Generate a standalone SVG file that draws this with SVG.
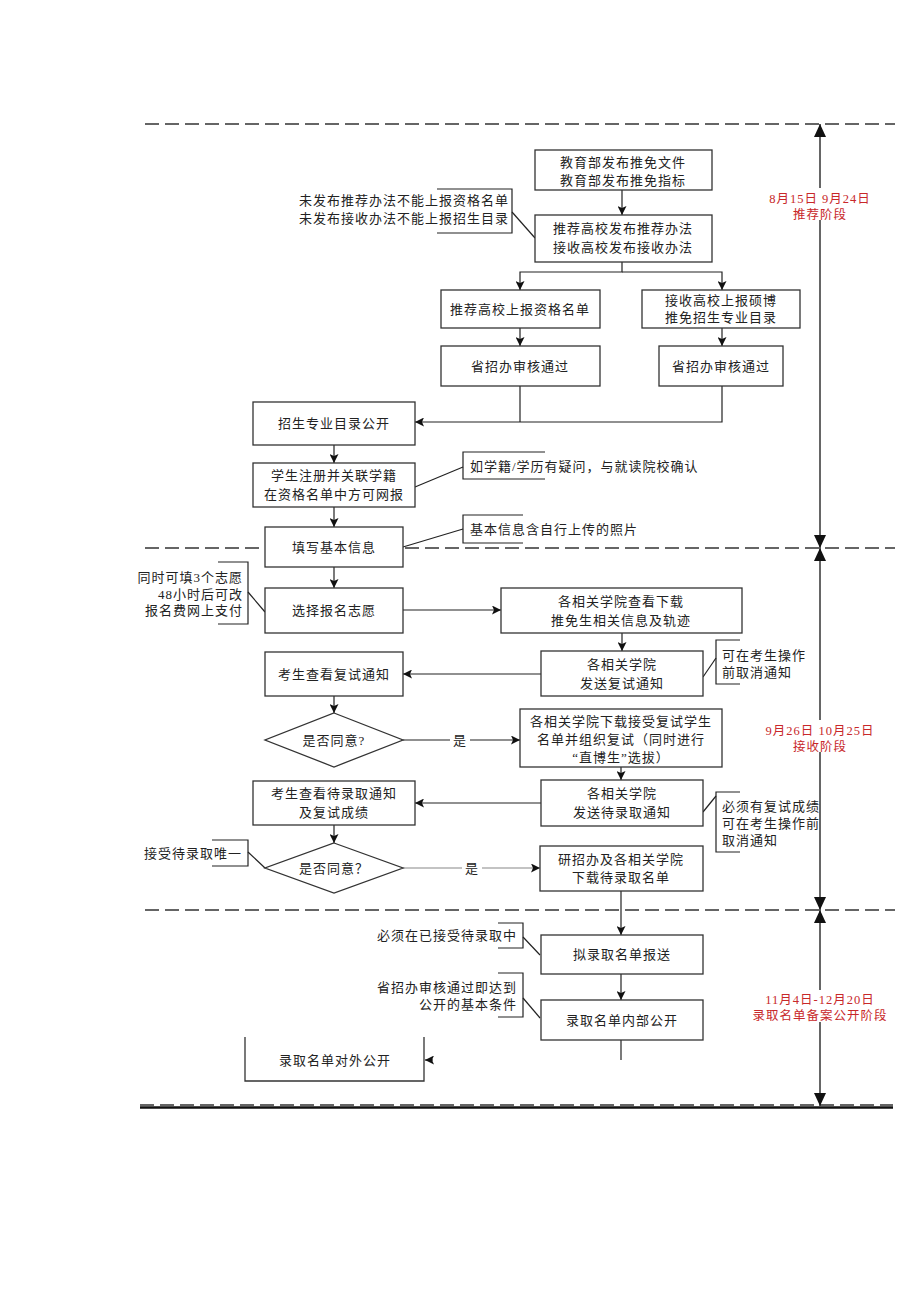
<svg xmlns="http://www.w3.org/2000/svg" width="920" height="1302" viewBox="0 0 920 1302">
<defs>
<style>
.box{fill:#fff;stroke:#333;stroke-width:1.3}
.t{font-family:"Liberation Serif","Noto Sans CJK SC",serif;font-size:13px;fill:#222;letter-spacing:1px}
.c{text-anchor:middle}
.r{text-anchor:end}
.red{font-family:"Liberation Serif","Noto Sans CJK SC",serif;font-size:12.5px;fill:#c8282a;text-anchor:middle;letter-spacing:1px}
.ln{fill:none;stroke:#222;stroke-width:1.2}
.grey{fill:none;stroke:#888;stroke-width:1.2}
.dash{fill:none;stroke:#333;stroke-width:1.5;stroke-dasharray:14 6}
.tl{fill:none;stroke:#333;stroke-width:1.5}
</style>
<marker id="a" markerWidth="9" markerHeight="9" refX="9" refY="4.5" orient="auto" markerUnits="userSpaceOnUse"><path d="M0,0 L9,4.5 L0,9 L2,4.5 z" fill="#111"/></marker>
<marker id="b" markerWidth="13" markerHeight="12" refX="13" refY="6" orient="auto-start-reverse" markerUnits="userSpaceOnUse"><path d="M0,0 L13,6 L0,12 z" fill="#111"/></marker>
</defs>

<g id="separators">
<line class="dash" x1="145" y1="124" x2="895" y2="124"/>
<line class="dash" x1="145" y1="548" x2="895" y2="548"/>
<line class="dash" x1="145" y1="910" x2="895" y2="910"/>
<line class="dash" x1="140" y1="1105" x2="893" y2="1105"/>
<line x1="140" y1="1107.5" x2="893" y2="1107.5" stroke="#111" stroke-width="2.5"/>
</g>

<g id="timeline">
<line class="tl" x1="820" y1="124" x2="820" y2="548" marker-start="url(#b)" marker-end="url(#b)"/>
<line class="tl" x1="820" y1="548" x2="820" y2="910" marker-start="url(#b)" marker-end="url(#b)"/>
<line class="tl" x1="820" y1="910" x2="820" y2="1106" marker-start="url(#b)" marker-end="url(#b)"/>
<rect x="764" y="188" width="112" height="32" fill="#fff"/>
<text class="red" x="820" y="203">8月15日  9月24日</text>
<text class="red" x="820" y="219">推荐阶段</text>
<rect x="756" y="720" width="128" height="32" fill="#fff"/>
<text class="red" x="820" y="735">9月26日  10月25日</text>
<text class="red" x="820" y="751">接收阶段</text>
<rect x="748" y="990" width="146" height="32" fill="#fff"/>
<text class="red" x="820" y="1004">11月4日-12月20日</text>
<text class="red" x="820" y="1020">录取名单备案公开阶段</text>
</g>

<g id="connectors">
<path class="ln" d="M622,190 V215" marker-end="url(#a)"/>
<path class="ln" d="M622,262 V272 H520 V290" marker-end="url(#a)"/>
<path class="ln" d="M622,272 H722 V290" marker-end="url(#a)"/>
<path class="ln" d="M520,328 V346" marker-end="url(#a)"/>
<path class="ln" d="M722,328 V346" marker-end="url(#a)"/>
<path class="ln" d="M520,386 V422"/>
<path class="ln" d="M722,386 V422 H415" marker-end="url(#a)"/>
<path class="ln" d="M334,445 V463" marker-end="url(#a)"/>
<path class="ln" d="M334,507 V527" marker-end="url(#a)"/>
<path class="ln" d="M334,567 V588" marker-end="url(#a)"/>
<path class="ln" d="M403,610 H501" marker-end="url(#a)"/>
<path class="ln" d="M622,633 V651" marker-end="url(#a)"/>
<path class="ln" d="M541,674 H403" marker-end="url(#a)"/>
<path class="ln" d="M334,696 V713" marker-end="url(#a)"/>
<path class="ln" d="M403,740 H520" marker-end="url(#a)"/>
<rect x="450" y="732" width="20" height="16" fill="#fff"/>
<text class="t c" x="460" y="745">是</text>
<path class="ln" d="M621,767 V780" marker-end="url(#a)"/>
<path class="ln" d="M541,803 H415" marker-end="url(#a)"/>
<path class="ln" d="M334,825 V843" marker-end="url(#a)"/>
<path class="grey" d="M403,868 H540" marker-end="url(#a)"/>
<rect x="462" y="860" width="20" height="16" fill="#fff"/>
<text class="t c" x="472" y="873">是</text>
<path class="ln" d="M621,891 V935" marker-end="url(#a)"/>
<path class="ln" d="M621,974 V1000" marker-end="url(#a)"/>
<path class="ln" d="M621,1040 V1060"/>
<path class="ln" d="M433,1060 H425" marker-end="url(#a)"/>
<path class="ln" d="M512,212 L535,238"/>
<path class="ln" d="M415,487 L463,467"/>
<path class="ln" d="M403,547 L463,529"/>
<path class="ln" d="M248,592 L265,612"/>
<path class="ln" d="M703,677 L716,658"/>
<path class="ln" d="M703,812 L716,796"/>
<path class="ln" d="M248,852 L265,868"/>
<path class="ln" d="M523,937 L540,955"/>
<path class="ln" d="M523,998 L540,1018"/>
</g>

<g id="n1"><rect class="box" x="535" y="150" width="177" height="40"/>
<text class="t c" x="623" y="167">教育部发布推免文件</text><text class="t c" x="623" y="185">教育部发布推免指标</text></g>
<g id="n2"><rect class="box" x="535" y="215" width="177" height="47"/>
<text class="t c" x="623" y="233">推荐高校发布推荐办法</text><text class="t c" x="623" y="252">接收高校发布接收办法</text></g>
<g id="n3"><rect class="box" x="441" y="290" width="159" height="38"/>
<text class="t c" x="520" y="314">推荐高校上报资格名单</text></g>
<g id="n4"><rect class="box" x="642" y="290" width="158" height="38"/>
<text class="t c" x="721" y="305">接收高校上报硕博</text><text class="t c" x="721" y="322">推免招生专业目录</text></g>
<g id="n5"><rect class="box" x="441" y="346" width="159" height="40"/>
<text class="t c" x="520" y="371">省招办审核通过</text></g>
<g id="n6"><rect class="box" x="659" y="346" width="124" height="40"/>
<text class="t c" x="721" y="371">省招办审核通过</text></g>
<g id="n7"><rect class="box" x="253" y="402" width="162" height="43"/>
<text class="t c" x="334" y="428">招生专业目录公开</text></g>
<g id="n8"><rect class="box" x="253" y="463" width="162" height="44"/>
<text class="t c" x="334" y="480">学生注册并关联学籍</text><text class="t c" x="334" y="499">在资格名单中方可网报</text></g>
<g id="n9"><rect class="box" x="265" y="527" width="138" height="40"/>
<text class="t c" x="334" y="552">填写基本信息</text></g>
<g id="n10"><rect class="box" x="265" y="588" width="138" height="45"/>
<text class="t c" x="334" y="615">选择报名志愿</text></g>
<g id="n11"><rect class="box" x="501" y="588" width="241" height="45"/>
<text class="t c" x="621" y="606">各相关学院查看下载</text><text class="t c" x="621" y="625">推免生相关信息及轨迹</text></g>
<g id="n12"><rect class="box" x="541" y="651" width="162" height="45"/>
<text class="t c" x="622" y="669">各相关学院</text><text class="t c" x="622" y="688">发送复试通知</text></g>
<g id="n13"><rect class="box" x="265" y="652" width="138" height="44"/>
<text class="t c" x="334" y="679">考生查看复试通知</text></g>
<g id="n14"><polygon class="box" points="334,713 403,740 334,767 265,740"/>
<text class="t c" x="334" y="745">是否同意?</text></g>
<g id="n15"><rect class="box" x="520" y="709" width="202" height="58"/>
<text class="t c" x="621" y="726">各相关学院下载接受复试学生</text><text class="t c" x="621" y="744">名单并组织复试（同时进行</text><text class="t c" x="621" y="762">“直博生”选拔）</text></g>
<g id="n16"><rect class="box" x="541" y="780" width="162" height="46"/>
<text class="t c" x="622" y="798">各相关学院</text><text class="t c" x="622" y="817">发送待录取通知</text></g>
<g id="n17"><rect class="box" x="253" y="781" width="162" height="44"/>
<text class="t c" x="334" y="798">考生查看待录取通知</text><text class="t c" x="334" y="817">及复试成绩</text></g>
<g id="n18"><polygon class="box" points="334,843 403,868 334,893 265,868"/>
<text class="t c" x="334" y="873">是否同意？</text></g>
<g id="n19"><rect class="box" x="540" y="846" width="163" height="45"/>
<text class="t c" x="621" y="864">研招办及各相关学院</text><text class="t c" x="621" y="882">下载待录取名单</text></g>
<g id="n20"><rect class="box" x="541" y="935" width="162" height="39"/>
<text class="t c" x="622" y="959">拟录取名单报送</text></g>
<g id="n21"><rect class="box" x="541" y="1000" width="162" height="40"/>
<text class="t c" x="622" y="1025">录取名单内部公开</text></g>
<g id="n22"><path d="M245,1037 V1081 H424 V1037" fill="#fff" stroke="#333" stroke-width="1.3"/>
<text class="t c" x="335" y="1065">录取名单对外公开</text></g>

<g id="note1"><path class="ln" d="M437,189 H512 V233 H437"/>
<text class="t r" x="509" y="205">未发布推荐办法不能上报资格名单</text><text class="t r" x="509" y="223">未发布接收办法不能上报招生目录</text></g>
<g id="note2"><path class="ln" d="M545,452 H463 V479 H545"/>
<text class="t" x="470" y="471">如学籍/学历有疑问，与就读院校确认</text></g>
<g id="note3"><path class="ln" d="M523,515 H463 V543 H523"/>
<text class="t" x="470" y="534">基本信息含自行上传的照片</text></g>
<g id="note4"><path class="ln" d="M218,562 H248 V624 H218"/>
<text class="t r" x="243" y="582">同时可填3个志愿</text><text class="t r" x="243" y="599">48小时后可改</text><text class="t r" x="243" y="615">报名费网上支付</text></g>
<g id="note5"><path class="ln" d="M740,640 H716 V684 H740"/>
<text class="t" x="722" y="660">可在考生操作</text><text class="t" x="722" y="677">前取消通知</text></g>
<g id="note6"><path class="ln" d="M740,792 H716 V852 H740"/>
<text class="t" x="722" y="811">必须有复试成绩</text><text class="t" x="722" y="828">可在考生操作前</text><text class="t" x="722" y="845">取消通知</text></g>
<g id="note7"><path class="ln" d="M212,840 H248 V866 H212"/>
<text class="t r" x="242" y="858">接受待录取唯一</text></g>
<g id="note8"><path class="ln" d="M498,923 H523 V948 H498"/>
<text class="t r" x="517" y="940">必须在已接受待录取中</text></g>
<g id="note9"><path class="ln" d="M498,973 H523 V1017 H498"/>
<text class="t r" x="517" y="992">省招办审核通过即达到</text><text class="t r" x="517" y="1009">公开的基本条件</text></g>
</svg>
